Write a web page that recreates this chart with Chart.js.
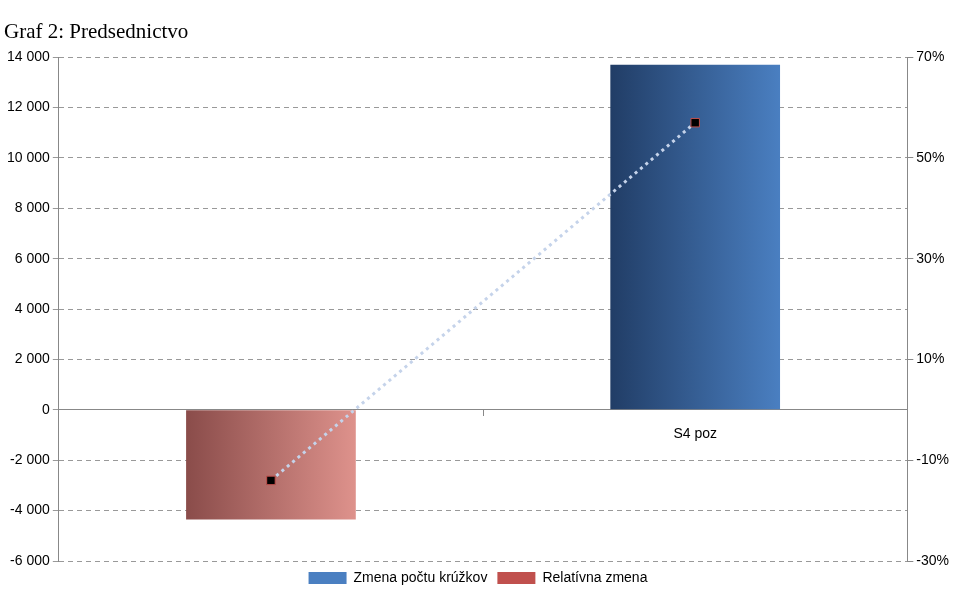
<!DOCTYPE html>
<html><head><meta charset="utf-8">
<script src="https://cdn.jsdelivr.net/npm/chart.js@4"></script>
<style>html,body{margin:0;background:#fff}#w{width:970px;height:599px}</style>
</head><body><div id="w"><canvas id="c"></canvas></div>
<script>
const categories = ["S4 neg", "S4 poz"];
const zmenaPoctu = [-4350, 13700];
const relativnaZmena = [-14, 57];
const leftTicks = [-6000, 14000, 2000];
const rightTicks = [-30, 70, 20];

function grad(ctx, i){
  const ch = ctx.chart;
  const sx = ch.scales && ch.scales.x;
  if (!ch.chartArea || !sx) return i===0 ? '#b06a66' : '#2f5a94';
  const cx = sx.getPixelForValue(i);
  const w = (ch.chartArea.right - ch.chartArea.left) / categories.length * 0.4;
  if (!isFinite(cx) || !isFinite(w)) return i===0 ? '#b06a66' : '#2f5a94';
  const x0 = cx - w/2;
  const g = ch.ctx.createLinearGradient(x0, 0, x0 + w, 0);
  if (i === 0) { g.addColorStop(0, '#8a4c4a'); g.addColorStop(1, '#de928c'); }
  else { g.addColorStop(0, '#213d66'); g.addColorStop(1, '#4a7fc1'); }
  return g;
}
const fmt = v => v.toLocaleString('en-US').replace(/,/g, ' ');

new Chart(document.getElementById('c'), {
  data: {
    labels: categories,
    datasets: [
      { type: 'line', label: 'Relatívna zmena', data: relativnaZmena, yAxisID: 'y1',
        borderColor: '#c5d3ea', borderWidth: 3, borderDash: [3, 4], fill: false,
        pointStyle: 'rect', pointRadius: 6, pointBackgroundColor: '#000', pointBorderColor: '#c0504d', pointBorderWidth: 1, order: 0 },
      { type: 'bar', label: 'Zmena počtu krúžkov', data: zmenaPoctu, yAxisID: 'y',
        backgroundColor: ctx => grad(ctx, ctx.dataIndex), barPercentage: 0.8, categoryPercentage: 0.5, order: 1 }
    ]
  },
  options: {
    responsive: true, maintainAspectRatio: false, animation: false,
    layout: { padding: { left: 4, right: 18, top: 0, bottom: 4 } },
    plugins: {
      title: { display: true, text: 'Graf 2: Predsednictvo', align: 'start',
        font: { family: 'Liberation Serif', size: 21, weight: 'normal' }, color: '#000', padding: { top: 20, bottom: 12 } },
      legend: { position: 'bottom',
        labels: { font: { family: 'Liberation Sans', size: 14 }, color: '#000', boxWidth: 38, boxHeight: 12,
          generateLabels: ch => [
            { text: 'Zmena počtu krúžkov', fillStyle: '#4a7fc1', strokeStyle: '#4a7fc1', lineWidth: 0, datasetIndex: 1 },
            { text: 'Relatívna zmena', fillStyle: '#c0504d', strokeStyle: '#c5d3ea', lineWidth: 0, datasetIndex: 0 }
          ] } },
      tooltip: { enabled: false }
    },
    scales: {
      x: { position: { y: 0 }, grid: { display: true, drawOnChartArea: false, offset: true, color: '#888', tickLength: 6 },
        border: { color: '#888' },
        ticks: { color: '#000', font: { family: 'Liberation Sans', size: 14 }, padding: 10 } },
      y: { min: leftTicks[0], max: leftTicks[1],
        ticks: { stepSize: leftTicks[2], color: '#000', font: { family: 'Liberation Sans', size: 14 }, callback: v => fmt(v) },
        grid: { color: '#999', tickLength: 6 }, border: { color: '#888', dash: [5, 4] } },
      y1: { position: 'right', min: rightTicks[0], max: rightTicks[1],
        ticks: { stepSize: rightTicks[2], color: '#000', font: { family: 'Liberation Sans', size: 14 }, callback: v => v + '%' },
        grid: { drawOnChartArea: false, color: '#888', tickLength: 6 }, border: { color: '#888' } }
    }
  }
});
</script></body></html>
